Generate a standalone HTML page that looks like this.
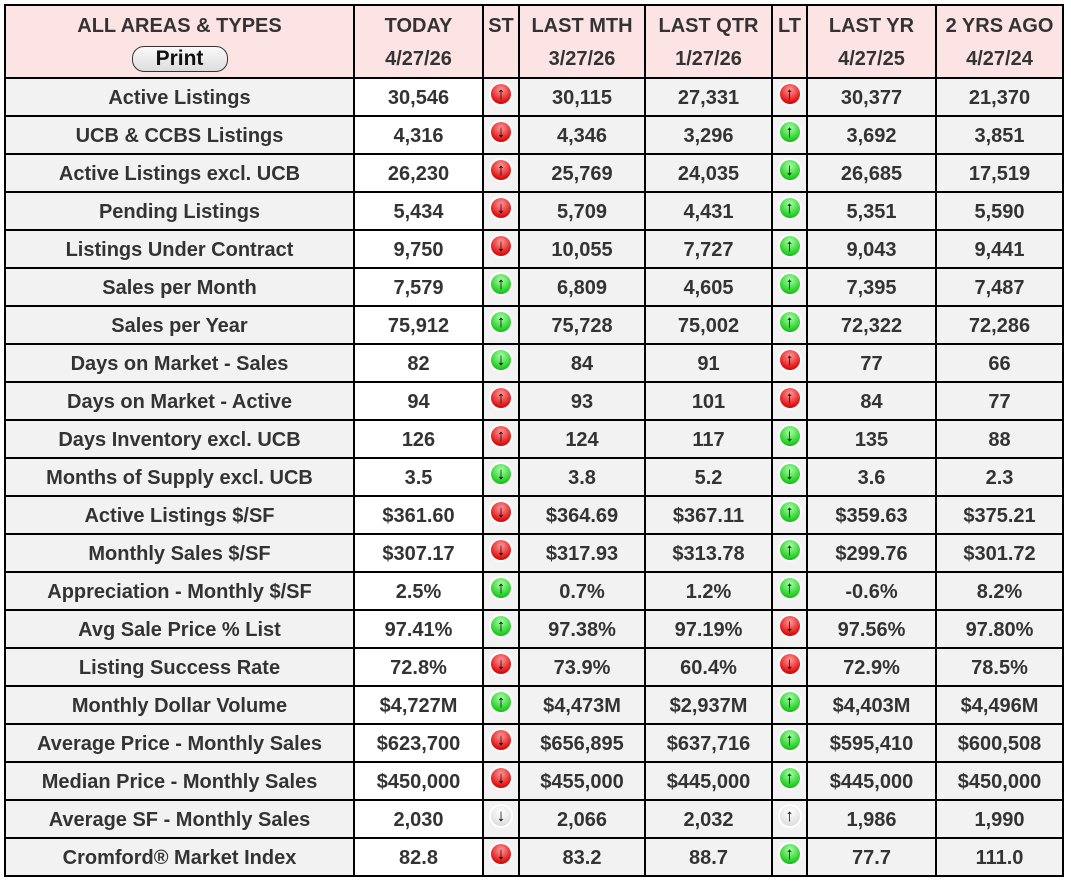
<!DOCTYPE html>
<html><head><meta charset="utf-8"><style>
body{margin:0;background:#fff;width:1071px;height:886px;overflow:hidden}
table{position:absolute;left:4px;top:4px;border-collapse:collapse;table-layout:fixed;font-family:"Liberation Sans",sans-serif;font-weight:bold;font-size:20px;color:#333}
tr{height:38px}
td{border:2px solid #000;text-align:center;padding:2px 0 0 0;background:#f2f2f2;line-height:20px;white-space:nowrap}
tr.h{height:73px}
tr.h td{background:#fde4e4;vertical-align:top;line-height:33px;padding-top:4px}
td.t{background:#fff}
td.i{vertical-align:top;padding-top:4px}
.ic{display:inline-block;width:20px;height:20px;border-radius:50%;font-size:17px;font-weight:900;line-height:20px;color:#000;box-shadow:0 0 0 2px #fff}
.r{background:radial-gradient(circle at 50% 30%,#ff9a9a,#e01010 70%,#a00)}
.g{background:radial-gradient(circle at 50% 30%,#a8ffa8,#22cc22 70%,#0a8a0a)}
.w{background:radial-gradient(circle at 50% 30%,#fff,#ddd 80%,#999)}
.btn{display:inline-block;width:94px;height:24px;line-height:24px;border:1px solid #333;border-radius:12px;background:linear-gradient(#fafafa,#ddd);font-size:21px;color:#111}
</style></head><body>
<table>
<colgroup><col style="width:349px"><col style="width:129px"><col style="width:36px"><col style="width:126px"><col style="width:127px"><col style="width:35px"><col style="width:129px"><col style="width:127px"></colgroup>
<tr class="h"><td>ALL AREAS &amp; TYPES<br><span class="btn">Print</span></td><td>TODAY<br>4/27/26</td><td>ST</td><td>LAST MTH<br>3/27/26</td><td>LAST QTR<br>1/27/26</td><td>LT</td><td>LAST YR<br>4/27/25</td><td>2 YRS AGO<br>4/27/24</td></tr>
<tr><td>Active Listings</td><td class="t">30,546</td><td class="i"><span class="ic r">↑</span></td><td>30,115</td><td>27,331</td><td class="i"><span class="ic r">↑</span></td><td>30,377</td><td>21,370</td></tr>
<tr><td>UCB &amp; CCBS Listings</td><td class="t">4,316</td><td class="i"><span class="ic r">↓</span></td><td>4,346</td><td>3,296</td><td class="i"><span class="ic g">↑</span></td><td>3,692</td><td>3,851</td></tr>
<tr><td>Active Listings excl. UCB</td><td class="t">26,230</td><td class="i"><span class="ic r">↑</span></td><td>25,769</td><td>24,035</td><td class="i"><span class="ic g">↓</span></td><td>26,685</td><td>17,519</td></tr>
<tr><td>Pending Listings</td><td class="t">5,434</td><td class="i"><span class="ic r">↓</span></td><td>5,709</td><td>4,431</td><td class="i"><span class="ic g">↑</span></td><td>5,351</td><td>5,590</td></tr>
<tr><td>Listings Under Contract</td><td class="t">9,750</td><td class="i"><span class="ic r">↓</span></td><td>10,055</td><td>7,727</td><td class="i"><span class="ic g">↑</span></td><td>9,043</td><td>9,441</td></tr>
<tr><td>Sales per Month</td><td class="t">7,579</td><td class="i"><span class="ic g">↑</span></td><td>6,809</td><td>4,605</td><td class="i"><span class="ic g">↑</span></td><td>7,395</td><td>7,487</td></tr>
<tr><td>Sales per Year</td><td class="t">75,912</td><td class="i"><span class="ic g">↑</span></td><td>75,728</td><td>75,002</td><td class="i"><span class="ic g">↑</span></td><td>72,322</td><td>72,286</td></tr>
<tr><td>Days on Market - Sales</td><td class="t">82</td><td class="i"><span class="ic g">↓</span></td><td>84</td><td>91</td><td class="i"><span class="ic r">↑</span></td><td>77</td><td>66</td></tr>
<tr><td>Days on Market - Active</td><td class="t">94</td><td class="i"><span class="ic r">↑</span></td><td>93</td><td>101</td><td class="i"><span class="ic r">↑</span></td><td>84</td><td>77</td></tr>
<tr><td>Days Inventory excl. UCB</td><td class="t">126</td><td class="i"><span class="ic r">↑</span></td><td>124</td><td>117</td><td class="i"><span class="ic g">↓</span></td><td>135</td><td>88</td></tr>
<tr><td>Months of Supply excl. UCB</td><td class="t">3.5</td><td class="i"><span class="ic g">↓</span></td><td>3.8</td><td>5.2</td><td class="i"><span class="ic g">↓</span></td><td>3.6</td><td>2.3</td></tr>
<tr><td>Active Listings $/SF</td><td class="t">$361.60</td><td class="i"><span class="ic r">↓</span></td><td>$364.69</td><td>$367.11</td><td class="i"><span class="ic g">↑</span></td><td>$359.63</td><td>$375.21</td></tr>
<tr><td>Monthly Sales $/SF</td><td class="t">$307.17</td><td class="i"><span class="ic r">↓</span></td><td>$317.93</td><td>$313.78</td><td class="i"><span class="ic g">↑</span></td><td>$299.76</td><td>$301.72</td></tr>
<tr><td>Appreciation - Monthly $/SF</td><td class="t">2.5%</td><td class="i"><span class="ic g">↑</span></td><td>0.7%</td><td>1.2%</td><td class="i"><span class="ic g">↑</span></td><td>-0.6%</td><td>8.2%</td></tr>
<tr><td>Avg Sale Price % List</td><td class="t">97.41%</td><td class="i"><span class="ic g">↑</span></td><td>97.38%</td><td>97.19%</td><td class="i"><span class="ic r">↓</span></td><td>97.56%</td><td>97.80%</td></tr>
<tr><td>Listing Success Rate</td><td class="t">72.8%</td><td class="i"><span class="ic r">↓</span></td><td>73.9%</td><td>60.4%</td><td class="i"><span class="ic r">↓</span></td><td>72.9%</td><td>78.5%</td></tr>
<tr><td>Monthly Dollar Volume</td><td class="t">$4,727M</td><td class="i"><span class="ic g">↑</span></td><td>$4,473M</td><td>$2,937M</td><td class="i"><span class="ic g">↑</span></td><td>$4,403M</td><td>$4,496M</td></tr>
<tr><td>Average Price - Monthly Sales</td><td class="t">$623,700</td><td class="i"><span class="ic r">↓</span></td><td>$656,895</td><td>$637,716</td><td class="i"><span class="ic g">↑</span></td><td>$595,410</td><td>$600,508</td></tr>
<tr><td>Median Price - Monthly Sales</td><td class="t">$450,000</td><td class="i"><span class="ic r">↓</span></td><td>$455,000</td><td>$445,000</td><td class="i"><span class="ic g">↑</span></td><td>$445,000</td><td>$450,000</td></tr>
<tr><td>Average SF - Monthly Sales</td><td class="t">2,030</td><td class="i"><span class="ic w">↓</span></td><td>2,066</td><td>2,032</td><td class="i"><span class="ic w">↑</span></td><td>1,986</td><td>1,990</td></tr>
<tr><td>Cromford® Market Index</td><td class="t">82.8</td><td class="i"><span class="ic r">↓</span></td><td>83.2</td><td>88.7</td><td class="i"><span class="ic g">↑</span></td><td>77.7</td><td>111.0</td></tr>
</table>
</body></html>
